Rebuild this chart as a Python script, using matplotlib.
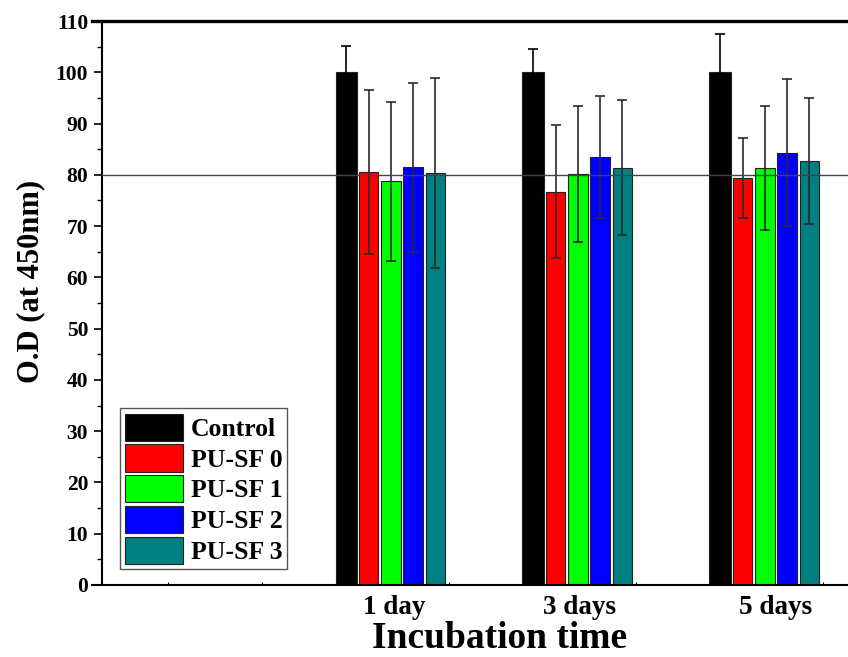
import numpy as np
import matplotlib
matplotlib.use('Agg')
import matplotlib.pyplot as plt
from matplotlib.ticker import MultipleLocator, FixedLocator

plt.rcParams['font.family'] = ['Liberation Serif', 'DejaVu Serif']
plt.rcParams['font.weight'] = 'bold'

# data
days = [1, 3, 5]
day_labels = ['1 day', '3 days', '5 days']
groups = ['Control', 'PU-SF 0', 'PU-SF 1', 'PU-SF 2', 'PU-SF 3']
control = [100.0, 100.0, 100.0]
control_err = [5.1, 4.6, 7.4]
pusf0 = [80.6, 76.7, 79.3]
pusf0_err = [16.0, 13.0, 7.8]
pusf1 = [78.7, 80.2, 81.4]
pusf1_err = [15.6, 13.3, 12.1]
pusf2 = [81.5, 83.5, 84.3]
pusf2_err = [16.5, 11.9, 14.3]
pusf3 = [80.4, 81.4, 82.7]
pusf3_err = [18.5, 13.1, 12.3]
ref_level = 80

colors = ['#000000', '#ff0000', '#00ff00', '#0000ff', '#008080']
values = [control, pusf0, pusf1, pusf2, pusf3]
errors = [control_err, pusf0_err, pusf1_err, pusf2_err, pusf3_err]

fig = plt.figure(figsize=(8.48, 6.57), dpi=100)
ax = fig.add_axes([0.1203, 0.1096, 0.8797, 0.8584])

step = 0.238
x = np.array(days, dtype=float)
for i, (name, vals, errs, c) in enumerate(zip(groups, values, errors, colors)):
    w = 0.232 if i == 0 else 0.208
    pos = x + (i - 2) * step
    ax.bar(pos, vals, width=w, color=c, edgecolor='#222222', linewidth=0.8,
           label=name, zorder=2)
    ec = '#000000' if i == 0 else '#2a2a2a'
    ax.errorbar(pos, vals, yerr=errs, fmt='none', ecolor=ec,
                elinewidth=1.2, capsize=3.6, capthick=1.2, zorder=3)

ax.axhline(ref_level, color='#444444', linewidth=1.0, zorder=4)

ax.set_xlim(-2.09, 5.89)
ax.set_ylim(0, 110)

ax.yaxis.set_major_locator(MultipleLocator(10))
ax.yaxis.set_minor_locator(MultipleLocator(5))
ax.tick_params(axis='y', which='major', direction='out', length=6, width=1.2,
               labelsize=15.5, pad=4)
ax.tick_params(axis='y', which='minor', direction='out', length=3.5, width=1.0)

ax.set_xticks([1.04, 3.02, 5.12])
ax.set_xticklabels(day_labels)
ax.xaxis.set_minor_locator(FixedLocator(np.arange(-1.38, 5.9, 1.0)))
ax.tick_params(axis='x', which='major', length=0, labelsize=19.5, pad=7)
ax.tick_params(axis='x', which='minor', direction='in', length=2, width=0.8)

ax.spines['right'].set_visible(False)
ax.spines['top'].set_linewidth(2.4)
ax.spines['bottom'].set_linewidth(1.5)
ax.spines['left'].set_linewidth(1.5)
ax.spines['top'].set_bounds(-2.2, 5.89)
ax.spines['bottom'].set_bounds(-2.2, 5.89)

ax.set_xlabel('Incubation time', fontsize=27, fontweight='bold')
ax.xaxis.set_label_coords(0.533, -0.064)
ax.set_ylabel('O.D (at 450nm)', fontsize=22, fontweight='bold')
ax.yaxis.set_label_coords(-0.076, 0.539)

leg = ax.legend(loc='lower left', bbox_to_anchor=(0.024, 0.028),
                borderaxespad=0, fontsize=18.5, handlelength=2.25,
                handleheight=1.25, labelspacing=0.14, handletextpad=0.3,
                borderpad=0.2, fancybox=False, framealpha=1)
leg.get_frame().set_edgecolor('#555555')
leg.get_frame().set_linewidth(1.0)

fig.savefig('out.png', dpi=100)
